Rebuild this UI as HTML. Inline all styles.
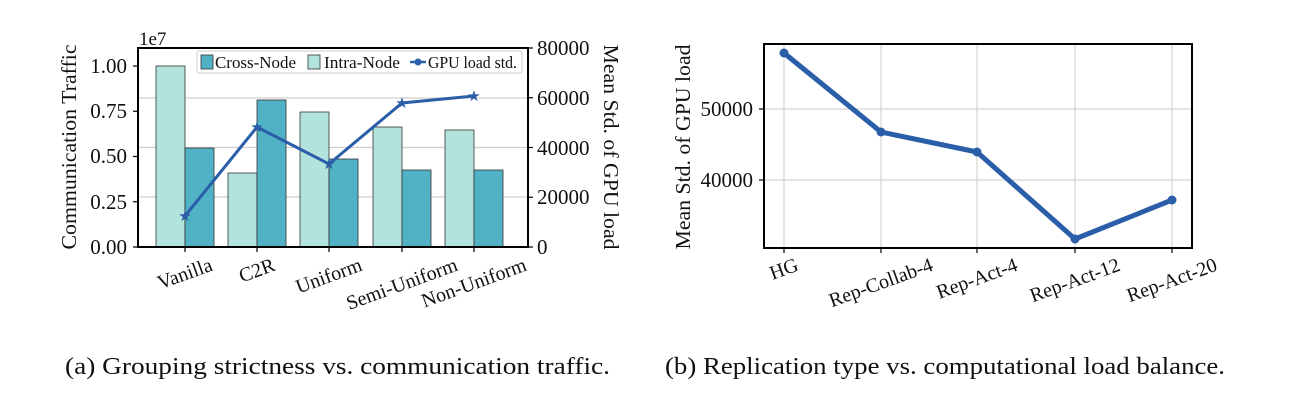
<!DOCTYPE html>
<html><head><meta charset="utf-8"><style>
html,body{margin:0;padding:0;background:#fff;width:1290px;height:409px;overflow:hidden}
svg text{font-family:"Liberation Serif",serif;fill:#111}
</style></head><body>
<svg id="s" width="1290" height="409" viewBox="0 0 1290 409" xmlns="http://www.w3.org/2000/svg">
<!-- LEFT PLOT -->
<g stroke="#d0d0d0" stroke-width="1.2">
<line x1="138" x2="528" y1="98" y2="98"/><line x1="138" x2="528" y1="147.5" y2="147.5"/><line x1="138" x2="528" y1="197" y2="197"/>
</g>
<g stroke="#333" stroke-width="0.8">
<rect x="156" y="66" width="29" height="181" fill="#b3e3dd"/>
<rect x="185" y="148" width="29" height="99" fill="#52b2c5"/>
<rect x="228" y="173" width="29" height="74" fill="#b3e3dd"/>
<rect x="257" y="100" width="29" height="147" fill="#52b2c5"/>
<rect x="300" y="112" width="29" height="135" fill="#b3e3dd"/>
<rect x="329" y="159" width="29" height="88" fill="#52b2c5"/>
<rect x="373" y="127" width="29" height="120" fill="#b3e3dd"/>
<rect x="402" y="170" width="29" height="77" fill="#52b2c5"/>
<rect x="445" y="130" width="29" height="117" fill="#b3e3dd"/>
<rect x="474" y="170" width="29" height="77" fill="#52b2c5"/>
</g>
<polyline points="185,216 257,127 329,164 402,103 474,96" fill="none" stroke="#2a5ea8" stroke-width="3"/>
<g font-size="15" text-anchor="middle">
<text x="185" y="221" style="fill:#2a5ea8">★</text><text x="257" y="132" style="fill:#2a5ea8">★</text><text x="329" y="169" style="fill:#2a5ea8">★</text><text x="402" y="108" style="fill:#2a5ea8">★</text><text x="474" y="101" style="fill:#2a5ea8">★</text>
</g>
<rect x="138" y="48" width="390" height="199" fill="none" stroke="#000" stroke-width="2"/>
<!-- legend -->
<rect x="197" y="51" width="325" height="22" fill="#fff" stroke="#ccc" stroke-width="1" rx="2"/>
<rect x="201" y="55" width="12" height="14" fill="#52b2c5" stroke="#333" stroke-width="0.8"/>
<text x="215" y="68" font-size="16.5" textLength="81" lengthAdjust="spacingAndGlyphs">Cross-Node</text>
<rect x="308" y="55" width="12" height="14" fill="#b3e3dd" stroke="#333" stroke-width="0.8"/>
<text x="324" y="68" font-size="16.5" textLength="76" lengthAdjust="spacingAndGlyphs">Intra-Node</text>
<line x1="410" x2="426" y1="62" y2="62" stroke="#2a5ea8" stroke-width="2.5"/>
<circle cx="418" cy="62" r="3.5" fill="#2a5ea8"/>
<text x="428" y="68" font-size="16.5" textLength="89" lengthAdjust="spacingAndGlyphs">GPU load std.</text>
<!-- left ticks -->
<g stroke="#000" stroke-width="1.2">
<line x1="133" x2="138" y1="247" y2="247"/><line x1="133" x2="138" y1="201.75" y2="201.75"/><line x1="133" x2="138" y1="156.5" y2="156.5"/><line x1="133" x2="138" y1="111.25" y2="111.25"/><line x1="133" x2="138" y1="66" y2="66"/>
<line x1="528" x2="533" y1="247" y2="247"/><line x1="528" x2="533" y1="197.25" y2="197.25"/><line x1="528" x2="533" y1="147.5" y2="147.5"/><line x1="528" x2="533" y1="97.75" y2="97.75"/><line x1="528" x2="533" y1="48" y2="48"/>
<line x1="185" x2="185" y1="247" y2="252"/><line x1="257" x2="257" y1="247" y2="252"/><line x1="329" x2="329" y1="247" y2="252"/><line x1="402" x2="402" y1="247" y2="252"/><line x1="474" x2="474" y1="247" y2="252"/>
</g>
<g font-size="21" text-anchor="end">
<text x="127" y="254">0.00</text><text x="127" y="209">0.25</text><text x="127" y="163">0.50</text><text x="127" y="118">0.75</text><text x="127" y="73">1.00</text>
</g>
<g font-size="21">
<text x="537" y="254">0</text><text x="537" y="204">20000</text><text x="537" y="155">40000</text><text x="537" y="105">60000</text><text x="537" y="55">80000</text>
</g>
<text x="139" y="45" font-size="19">1e7</text>
<text font-size="21" text-anchor="middle" transform="translate(76,147) rotate(-90)" textLength="205" lengthAdjust="spacingAndGlyphs">Communication Traffic</text>
<text font-size="21" text-anchor="middle" transform="translate(604,147) rotate(90)" textLength="205" lengthAdjust="spacingAndGlyphs">Mean Std. of GPU load</text>
<g font-size="20" class="xl">
<text data-x="185">Vanilla</text><text data-x="257">C2R</text><text data-x="329">Uniform</text><text data-x="402">Semi-Uniform</text><text data-x="474">Non-Uniform</text>
</g>
<!-- RIGHT PLOT -->
<g stroke="#d4d4d4" stroke-width="1.2">
<line x1="764" x2="1192" y1="109" y2="109"/><line x1="764" x2="1192" y1="180" y2="180"/>
<line x1="784" x2="784" y1="44" y2="248"/><line x1="881" x2="881" y1="44" y2="248"/><line x1="977" x2="977" y1="44" y2="248"/><line x1="1075" x2="1075" y1="44" y2="248"/><line x1="1172" x2="1172" y1="44" y2="248"/>
</g>
<polyline points="784,53 881,132 977,152 1075,239 1172,200" fill="none" stroke="#2a5ea8" stroke-width="5" stroke-linejoin="round"/>
<g fill="#2a5ea8"><circle cx="784" cy="53" r="4.5"/><circle cx="881" cy="132" r="4.5"/><circle cx="977" cy="152" r="4.5"/><circle cx="1075" cy="239" r="4.5"/><circle cx="1172" cy="200" r="4.5"/></g>
<rect x="764" y="44" width="428" height="204" fill="none" stroke="#000" stroke-width="2"/>
<g stroke="#000" stroke-width="1.2">
<line x1="759" x2="764" y1="109" y2="109"/><line x1="759" x2="764" y1="180" y2="180"/>
<line x1="784" x2="784" y1="248" y2="253"/><line x1="881" x2="881" y1="248" y2="253"/><line x1="977" x2="977" y1="248" y2="253"/><line x1="1075" x2="1075" y1="248" y2="253"/><line x1="1172" x2="1172" y1="248" y2="253"/>
</g>
<g font-size="21" text-anchor="end"><text x="753" y="116">50000</text><text x="753" y="187">40000</text></g>
<text font-size="21" text-anchor="middle" transform="translate(690,147) rotate(-90)" textLength="205" lengthAdjust="spacingAndGlyphs">Mean Std. of GPU load</text>
<g font-size="20" class="xl">
<text data-x="784">HG</text><text data-x="881">Rep-Collab-4</text><text data-x="977">Rep-Act-4</text><text data-x="1075">Rep-Act-12</text><text data-x="1172">Rep-Act-20</text>
</g>
<!-- captions -->
<text x="65" y="374" font-size="24" textLength="545" lengthAdjust="spacingAndGlyphs">(a) Grouping strictness vs. communication traffic.</text>
<text x="665" y="374" font-size="24" textLength="560" lengthAdjust="spacingAndGlyphs">(b) Replication type vs. computational load balance.</text>
</svg>
<script>
document.querySelectorAll('.xl text').forEach(function(t){
  var x=+t.getAttribute('data-x');
  t.setAttribute('text-anchor','middle');
  t.setAttribute('dominant-baseline','central');
  var w=t.getComputedTextLength(), h=18;
  var bh=w*Math.sin(20*Math.PI/180)+h*Math.cos(20*Math.PI/180);
  var cy=256+bh/2;
  t.setAttribute('x',0);t.setAttribute('y',0);
  t.setAttribute('transform','translate('+x+','+cy+') rotate(-20)');
});
</script>
</body></html>
